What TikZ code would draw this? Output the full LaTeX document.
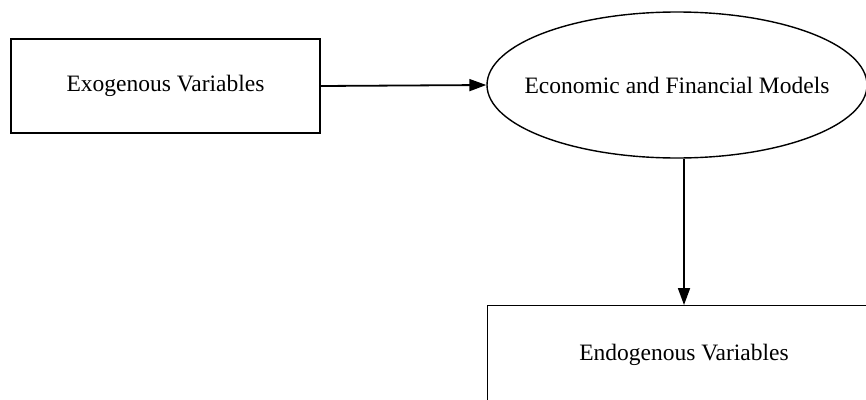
\documentclass[tikz,border=0pt]{standalone}
\usepackage{fontspec}
\setmainfont{Liberation Serif}
\usetikzlibrary{arrows.meta,shapes.geometric}
\begin{document}
\begin{tikzpicture}[x=1pt,y=-1pt,
  every node/.style={font=\fontsize{23.5}{28}\selectfont, inner sep=0pt},
  boxnode/.style={draw, line width=1.4pt, rectangle, minimum width=309pt, minimum height=94pt},
  ellnode/.style={draw, line width=1.4pt, ellipse, minimum width=380pt, minimum height=146pt},
  conn/.style={line width=1.8pt, -{Triangle[length=17pt,width=12pt]}}]
\useasboundingbox (0,0) rectangle (866,399);
\clip (0,0) rectangle (866,399);
\node[boxnode] (exo) at (165.5,86) {};
\node (exot) at (165.5,86) {Exogenous Variables};
\node[ellnode] (model) at (677,85) {};
\node (modelt) at (677,85) {Economic and Financial Models};
\node[boxnode, minimum width=400pt, minimum height=120pt, anchor=north west] (endo) at (487,305) {};
\node (endot) at (684,355) {Endogenous Variables};
\draw[conn] (exo.east) -- (model.west);
\draw[conn] (model.south -| endot.north) -- (endo.north -| endot.north);
\end{tikzpicture}
\end{document}
